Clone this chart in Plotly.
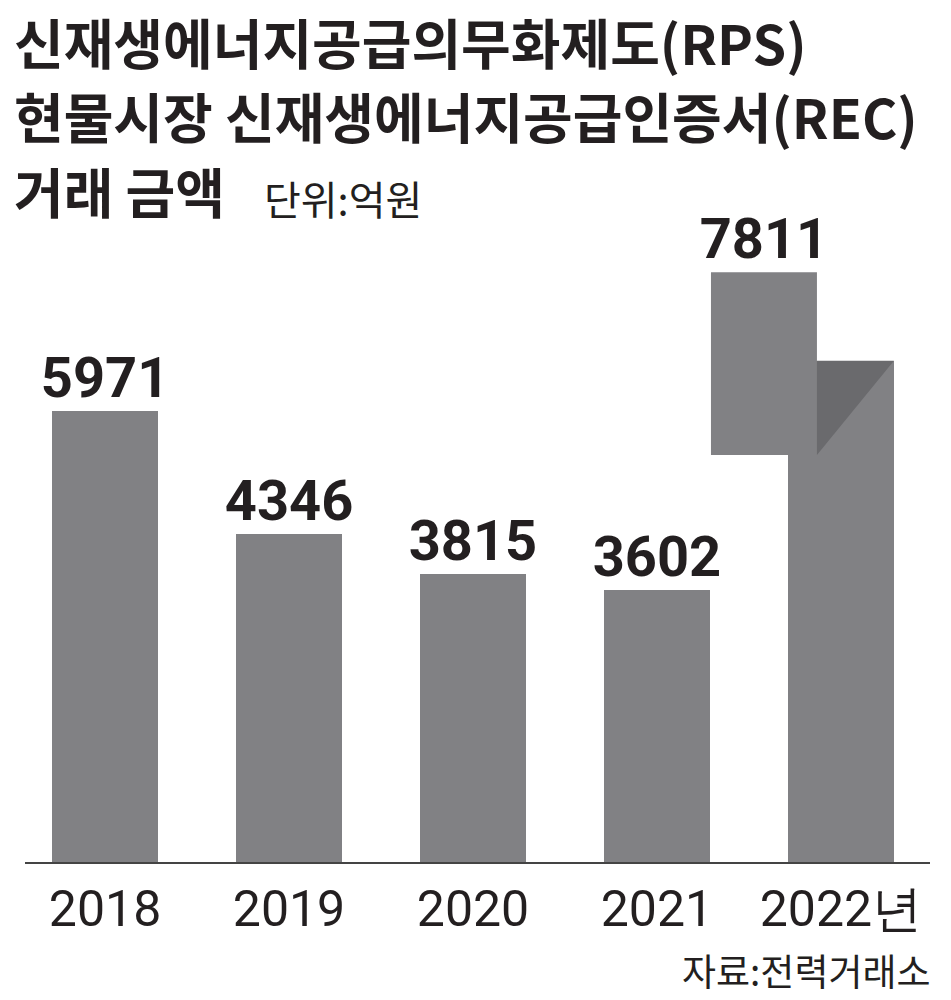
import plotly.graph_objects as go

# ---- data ----
years = ["2018", "2019", "2020", "2021", "2022년"]
values = [5971, 4346, 3815, 3602, 7811]

title_lines = ["신재생에너지공급의무화제도(RPS)",
               "현물시장 신재생에너지공급인증서(REC)",
               "거래 금액"]
unit_text = "단위:억원"
source_text = "자료:전력거래소"

# ---- style ----
BAR = "#818184"
DARK = "#6a6a6d"
INK = "#231f20"
KR_FONT = "Noto Sans CJK KR"
NUM_FONT = "Roboto, sans-serif"

W, H = 951, 1000
L, R, T, B = 25, 21, 230, 138
PW = W - L - R
PH = H - T - B


def px(x):
    return (x - L) / PW


def py(y):
    return (H - B - y) / PH


BAR_W = 0.576
FLAP_SHIFT = -0.4185
FOLD_MAIN = 0.85
FOLD_END = 0.69

xs = list(range(len(years)))
last = len(values) - 1
bar_heights = values[:-1] + [values[-1] * FOLD_MAIN]
label_x = xs[:-1] + [last + FLAP_SHIFT]

fig = go.Figure()
fig.add_trace(go.Bar(
    x=xs, y=bar_heights, width=BAR_W,
    marker=dict(color=BAR, line=dict(width=0)),
    hoverinfo="skip", showlegend=False,
))
fig.add_trace(go.Scatter(
    x=label_x, y=values, mode="text",
    text=[str(v) for v in values], textposition="top center",
    textfont=dict(family=NUM_FONT, size=56, color=INK, weight="bold"),
    hoverinfo="skip", showlegend=False, cliponaxis=False,
))

# folded top of the last bar
top = values[last]
main_top = top * FOLD_MAIN
fold_end = top * FOLD_END
fx0 = last + FLAP_SHIFT - BAR_W / 2
fx1 = last + FLAP_SHIFT + BAR_W / 2
fig.add_shape(type="rect", xref="x", yref="y", x0=fx0, x1=fx1, y0=fold_end, y1=top,
              fillcolor=BAR, line=dict(width=0), layer="above")
fig.add_shape(type="path", xref="x", yref="y",
              path=f"M {fx1},{main_top} L {last + BAR_W / 2},{main_top} L {fx1},{fold_end} Z",
              fillcolor=DARK, line=dict(width=0), layer="above")

annotations = []
title_y = [42, 116, 191]
for line, yy in zip(title_lines, title_y):
    annotations.append(dict(
        text=f"<b>{line}</b>", xref="paper", yref="paper", x=px(12), y=py(yy),
        xanchor="left", yanchor="middle", showarrow=False,
        font=dict(family=KR_FONT, size=54, color=INK),
    ))
annotations.append(dict(
    text=unit_text, xref="paper", yref="paper", x=px(262), y=py(198),
    xanchor="left", yanchor="middle", showarrow=False,
    font=dict(family=KR_FONT, size=40, color=INK),
))
annotations.append(dict(
    text=source_text, xref="paper", yref="paper", x=px(933), y=py(970),
    xanchor="right", yanchor="middle", showarrow=False,
    font=dict(family=KR_FONT, size=37, color=INK),
))

fig.update_layout(
    width=W, height=H,
    margin=dict(l=L, r=R, t=T, b=B, pad=0),
    paper_bgcolor="white", plot_bgcolor="white",
    bargap=0,
    annotations=annotations,
    xaxis=dict(
        range=[-0.435, 4.484], tickvals=xs, ticktext=years,
        showline=True, linecolor="#444", linewidth=2, ticks="",
        showgrid=False, zeroline=False, fixedrange=True,
        tickfont=dict(family=NUM_FONT, size=50, color=INK),
        ticklabelstandoff=2,
    ),
    yaxis=dict(range=[0, 8370], visible=False, showgrid=False, zeroline=False, fixedrange=True),
)

fig.write_html("out.html", post_script="document.body.style.margin='0';",
               config={"displayModeBar": False})
